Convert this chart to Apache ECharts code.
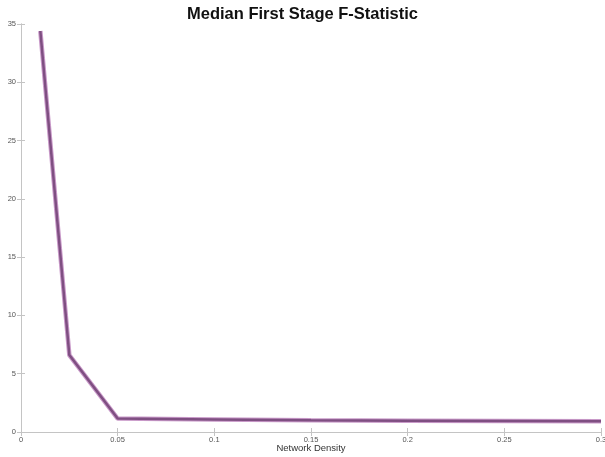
<!DOCTYPE html>
<html>
<head>
<meta charset="utf-8">
<script src="https://cdn.jsdelivr.net/npm/echarts@6/dist/echarts.min.js"></script>
<style>
  html, body { margin: 0; padding: 0; background: #fff; }
  #chart { width: 605px; height: 457px; }
</style>
</head>
<body>
<div id="chart"></div>
<script>
// Network density values and median first-stage F-statistic at each
const density = [0.01, 0.025, 0.05, 0.1, 0.15, 0.2, 0.25, 0.3];
const medianF = [34.4, 6.6, 1.15, 1.08, 1.0, 0.97, 0.95, 0.93];

const axisGrey = '#c4c4c4';
const labelStyle = { color: '#555', fontSize: 7.5, fontFamily: 'Liberation Sans, Arial, sans-serif' };

const chart = echarts.init(document.getElementById('chart'), null, { renderer: 'canvas' });
chart.setOption({
  animation: false,
  backgroundColor: '#fff',
  title: {
    text: 'Median First Stage F-Statistic',
    left: 'center',
    top: 1,
    textStyle: { fontSize: 16.5, fontWeight: 'bold', color: '#111', fontFamily: 'Liberation Sans, Arial, sans-serif' }
  },
  grid: { left: 21, right: 4, top: 24, bottom: 25, containLabel: false, outerBoundsMode: 'none' },
  xAxis: [
    {
      type: 'value', min: 0, max: 0.3, interval: 0.05, position: 'bottom',
      name: 'Network Density', nameLocation: 'middle', nameGap: 11, nameMoveOverlap: false,
      nameTextStyle: { fontSize: 9.5, color: '#333', fontFamily: 'Liberation Sans, Arial, sans-serif' },
      axisLine: { show: true, lineStyle: { color: axisGrey, width: 1 } },
      axisTick: { show: true, inside: true, length: 4, lineStyle: { color: axisGrey } },
      axisLabel: Object.assign({ margin: 4, showMaxLabel: true }, labelStyle),
      splitLine: { show: false }
    },
    {
      type: 'value', min: 0, max: 0.3, interval: 0.05, position: 'top',
      axisLine: { show: true, lineStyle: { color: axisGrey, width: 1 } },
      axisTick: { show: true, inside: true, length: 4, lineStyle: { color: axisGrey } },
      axisLabel: { show: false },
      splitLine: { show: false }
    }
  ],
  yAxis: [
    {
      type: 'value', min: 0, max: 35, interval: 5, position: 'left',
      axisLine: { show: true, lineStyle: { color: axisGrey, width: 1 } },
      axisTick: { show: true, inside: true, length: 4, lineStyle: { color: axisGrey } },
      axisLabel: Object.assign({ margin: 5 }, labelStyle),
      splitLine: { show: false }
    },
    {
      type: 'value', min: 0, max: 35, interval: 5, position: 'right',
      axisLine: { show: true, lineStyle: { color: axisGrey, width: 1 } },
      axisTick: { show: true, inside: true, length: 4, lineStyle: { color: axisGrey } },
      axisLabel: { show: false },
      splitLine: { show: false }
    }
  ],
  series: [
    {
      type: 'line',
      xAxisIndex: 0, yAxisIndex: 0,
      data: density.map((d, i) => [d, medianF[i]]),
      showSymbol: false,
      lineStyle: { color: '#c99ac9', width: 4.5 },
      z: 2
    },
    {
      type: 'line',
      xAxisIndex: 0, yAxisIndex: 0,
      data: density.map((d, i) => [d, medianF[i]]),
      showSymbol: false,
      lineStyle: { color: '#7f4f82', width: 2.5 },
      z: 3
    }
  ]
});
</script>
</body>
</html>
